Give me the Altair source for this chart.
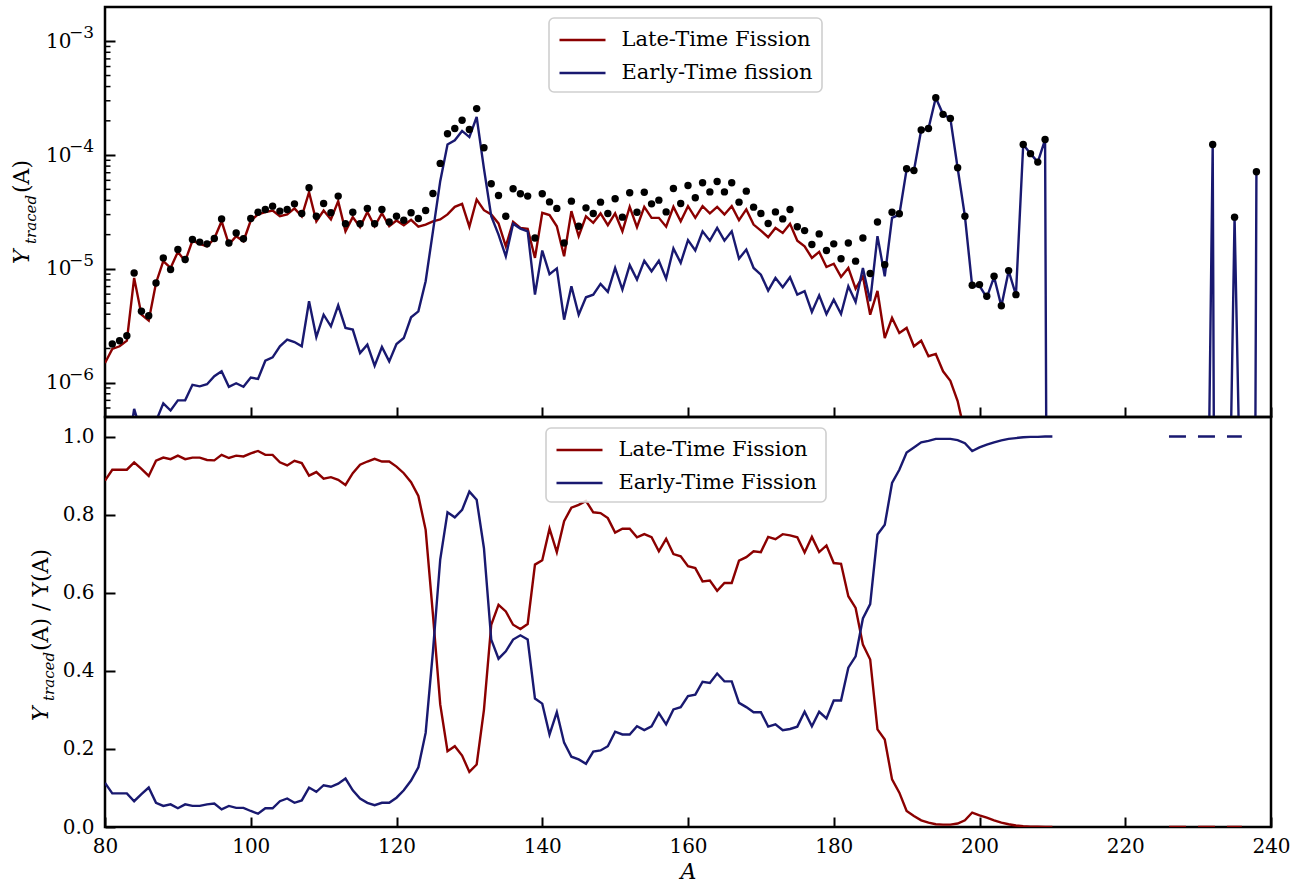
import altair as alt
import pandas as pd

# ---------------- data ----------------
# top panel: late-time fission yield, A = 80 .. 209
A_late_top = list(range(80, 210))
late_top = [
    1.49e-6, 1.98e-6, 2.09e-6, 2.34e-6, 8.34e-6, 3.96e-6, 3.51e-6, 7.53e-6, 1.17e-5, 1.02e-5,
    1.41e-5, 1.17e-5, 1.77e-5, 1.66e-5, 1.58e-5, 1.85e-5, 2.62e-5, 1.64e-5, 1.94e-5, 1.75e-5,
    2.66e-5, 3.01e-5, 3.15e-5, 3.26e-5, 2.90e-5, 3.01e-5, 3.40e-5, 2.90e-5, 4.72e-5, 2.62e-5,
    3.26e-5, 2.72e-5, 3.94e-5, 2.14e-5, 2.85e-5, 2.33e-5, 3.17e-5, 2.37e-5, 3.09e-5, 2.37e-5,
    2.66e-5, 2.42e-5, 2.70e-5, 2.35e-5, 2.45e-5, 2.62e-5, 2.72e-5, 3.01e-5, 3.51e-5, 3.73e-5,
    2.35e-5, 4.07e-5, 3.28e-5, 3.01e-5, 2.51e-5, 1.58e-5, 2.59e-5, 2.29e-5, 2.25e-5, 1.25e-5,
    3.11e-5, 2.97e-5, 2.37e-5, 1.29e-5, 3.22e-5, 1.94e-5, 2.90e-5, 2.54e-5, 3.07e-5, 2.42e-5,
    3.07e-5, 2.14e-5, 3.51e-5, 2.33e-5, 3.51e-5, 2.81e-5, 2.81e-5, 2.35e-5, 3.51e-5, 2.62e-5,
    3.56e-5, 2.81e-5, 3.56e-5, 3.07e-5, 3.51e-5, 3.01e-5, 3.56e-5, 2.68e-5, 3.33e-5, 2.45e-5,
    2.17e-5, 1.90e-5, 2.29e-5, 2.07e-5, 2.49e-5, 1.77e-5, 1.58e-5, 1.25e-5, 1.41e-5, 1.04e-5,
    1.11e-5, 8.5e-6, 1.02e-5, 6.7e-6, 8.6e-6, 3.96e-6, 6.4e-6, 2.47e-6, 3.71e-6, 2.74e-6,
    3.03e-6, 2.09e-6, 2.34e-6, 1.71e-6, 1.79e-6, 1.26e-6, 1.04e-6, 6.9e-7, 3.6e-7, 2.7e-7,
    2.2e-7, 1.4e-7, 1.5e-7, 5e-8, 7e-8, 2.4e-8, 2.5e-7, 1e-7, 9e-8, 1e-7,
]

# top panel: early-time fission yield, A = 80 .. 238 (1e-20 stands for zero)
A_early_top = list(range(80, 239))
early_top = [
    1.9e-7, 1.9e-7, 2.0e-7, 2.2e-7, 5.9e-7, 3.6e-7, 3.9e-7, 4.6e-7, 6.6e-7, 5.7e-7,
    7.0e-7, 7.0e-7, 9.6e-7, 9.3e-7, 9.7e-7, 1.14e-6, 1.26e-6, 9.2e-7, 9.9e-7, 9.2e-7,
    1.11e-6, 1.08e-6, 1.56e-6, 1.67e-6, 2.09e-6, 2.39e-6, 2.28e-6, 2.09e-6, 5.2e-6, 2.52e-6,
    3.96e-6, 3.13e-6, 4.79e-6, 3.03e-6, 2.93e-6, 1.82e-6, 2.16e-6, 1.41e-6, 2.06e-6, 1.54e-6,
    2.19e-6, 2.47e-6, 3.76e-6, 4.24e-6, 7.79e-6, 2.14e-5, 5.9e-5, 1.24e-4, 1.35e-4, 1.63e-4,
    1.44e-4, 2.16e-4, 7.6e-5, 2.9e-5, 2.0e-5, 1.29e-5, 2.49e-5, 2.26e-5, 2.14e-5, 5.94e-6,
    1.45e-5, 9.0e-6, 1.01e-5, 3.58e-6, 7.04e-6, 3.96e-6, 5.63e-6, 5.94e-6, 7.38e-6, 6.28e-6,
    1.02e-5, 6.58e-6, 1.08e-5, 8.05e-6, 1.18e-5, 9.53e-6, 1.18e-5, 8.22e-6, 1.51e-5, 1.13e-5,
    1.79e-5, 1.45e-5, 2.14e-5, 1.77e-5, 2.29e-5, 1.77e-5, 2.14e-5, 1.23e-5, 1.48e-5, 1.02e-5,
    8.9e-6, 6.45e-6, 8.33e-6, 6.9e-6, 8.45e-6, 5.94e-6, 6.37e-6, 4.19e-6, 5.86e-6, 4.02e-6,
    5.37e-6, 4.02e-6, 7.04e-6, 5.13e-6, 1.02e-5, 5.2e-6, 1.94e-5, 8.61e-6, 2.81e-5, 3.0e-5,
    7.5e-5, 7.3e-5, 1.66e-4, 1.71e-4, 3.19e-4, 2.28e-4, 2.10e-4, 7.7e-5, 2.9e-5, 7.0e-6,
    7.1e-6, 5.6e-6, 8.5e-6, 4.7e-6, 9.6e-6, 5.9e-6, 1.24e-4, 1.03e-4, 8.68e-5, 1.37e-4,
    1e-20, 1e-20, 1e-20, 1e-20, 1e-20, 1e-20, 1e-20, 1e-20, 1e-20, 1e-20,
    1e-20, 1e-20, 1e-20, 1e-20, 1e-20, 1e-20, 1e-20, 1e-20, 1e-20, 1e-20,
    1e-20, 7e-10, 1.24e-4, 1e-20, 4e-9, 2.85e-5, 1.8e-8, 1e-20, 7.13e-5,
]

# top panel: total yield (black dots)
A_total = list(range(81, 210)) + [232, 235, 238]
total_top = [
    2.19e-6, 2.34e-6, 2.59e-6, 9.22e-6, 4.24e-6, 3.88e-6, 7.53e-6, 1.25e-5, 9.87e-6,
    1.48e-5, 1.21e-5, 1.81e-5, 1.72e-5, 1.66e-5, 1.85e-5, 2.75e-5, 1.69e-5, 2.07e-5, 1.84e-5,
    2.77e-5, 3.15e-5, 3.33e-5, 3.56e-5, 3.22e-5, 3.33e-5, 3.73e-5, 3.07e-5, 5.16e-5, 2.90e-5,
    3.76e-5, 3.11e-5, 4.36e-5, 2.49e-5, 3.15e-5, 2.49e-5, 3.40e-5, 2.49e-5, 3.33e-5, 2.58e-5,
    2.90e-5, 2.68e-5, 3.11e-5, 2.77e-5, 3.26e-5, 4.60e-5, 8.45e-5, 1.54e-4, 1.71e-4, 2.02e-4,
    1.68e-4, 2.56e-4, 1.16e-4, 5.60e-5, 4.41e-5, 2.90e-5, 5.06e-5, 4.57e-5, 4.36e-5, 1.87e-5,
    4.57e-5, 3.88e-5, 3.40e-5, 1.69e-5, 3.94e-5, 2.37e-5, 3.44e-5, 3.07e-5, 3.86e-5, 3.07e-5,
    4.13e-5, 2.85e-5, 4.67e-5, 3.15e-5, 4.72e-5, 3.73e-5, 4.02e-5, 3.17e-5, 5.09e-5, 3.76e-5,
    5.41e-5, 4.22e-5, 5.72e-5, 4.75e-5, 5.87e-5, 4.75e-5, 5.72e-5, 3.86e-5, 4.82e-5, 3.49e-5,
    3.07e-5, 2.51e-5, 3.17e-5, 2.75e-5, 3.33e-5, 2.35e-5, 2.17e-5, 1.64e-5, 2.03e-5, 1.45e-5,
    1.66e-5, 1.23e-5, 1.69e-5, 1.17e-5, 1.87e-5, 9.1e-6, 2.58e-5, 1.09e-5, 3.15e-5, 3.05e-5,
    7.58e-5, 7.33e-5, 1.66e-4, 1.71e-4, 3.19e-4, 2.28e-4, 2.10e-4, 7.74e-5, 2.90e-5, 7.18e-6,
    7.28e-6, 5.75e-6, 8.61e-6, 4.75e-6, 9.66e-6, 5.94e-6, 1.24e-4, 1.03e-4, 8.68e-5, 1.37e-4,
    1.24e-4, 2.85e-5, 7.13e-5,
]

# bottom panel: fractions, A = 80 .. 210
A_frac = list(range(80, 211))
late_frac = [
    0.887, 0.915, 0.915, 0.915, 0.934, 0.917, 0.899, 0.938, 0.946, 0.942,
    0.951, 0.942, 0.946, 0.946, 0.940, 0.939, 0.953, 0.945, 0.951, 0.949,
    0.957, 0.963, 0.953, 0.953, 0.934, 0.926, 0.938, 0.932, 0.900, 0.909,
    0.892, 0.896, 0.889, 0.876, 0.906, 0.928, 0.936, 0.943, 0.936, 0.936,
    0.923, 0.906, 0.883, 0.848, 0.761, 0.544, 0.314, 0.194, 0.207, 0.183,
    0.141, 0.160, 0.300, 0.518, 0.569, 0.552, 0.518, 0.507, 0.520, 0.672,
    0.683, 0.764, 0.704, 0.783, 0.818, 0.825, 0.835, 0.806, 0.804, 0.791,
    0.754, 0.764, 0.764, 0.742, 0.750, 0.742, 0.706, 0.738, 0.699, 0.693,
    0.668, 0.663, 0.629, 0.631, 0.605, 0.625, 0.625, 0.682, 0.691, 0.706,
    0.704, 0.743, 0.737, 0.750, 0.747, 0.742, 0.703, 0.743, 0.704, 0.721,
    0.676, 0.674, 0.591, 0.561, 0.467, 0.429, 0.250, 0.224, 0.122, 0.088,
    0.041, 0.028, 0.017, 0.011, 0.007, 0.006, 0.006, 0.009, 0.017, 0.037,
    0.030, 0.024, 0.017, 0.011, 0.007, 0.004, 0.002, 0.001, 0.001, 0.000,
    0.000,
]
early_frac = [
    0.113, 0.086, 0.086, 0.086, 0.066, 0.084, 0.101, 0.062, 0.054, 0.058,
    0.048, 0.058, 0.054, 0.054, 0.058, 0.060, 0.045, 0.054, 0.049, 0.049,
    0.041, 0.034, 0.048, 0.048, 0.066, 0.073, 0.062, 0.068, 0.101, 0.090,
    0.107, 0.103, 0.111, 0.124, 0.094, 0.073, 0.062, 0.056, 0.062, 0.062,
    0.075, 0.094, 0.119, 0.153, 0.241, 0.450, 0.685, 0.806, 0.793, 0.812,
    0.859, 0.838, 0.714, 0.480, 0.431, 0.450, 0.480, 0.491, 0.480, 0.329,
    0.316, 0.237, 0.294, 0.216, 0.180, 0.173, 0.162, 0.193, 0.196, 0.207,
    0.244, 0.237, 0.237, 0.258, 0.248, 0.258, 0.292, 0.263, 0.301, 0.307,
    0.335, 0.339, 0.372, 0.369, 0.393, 0.373, 0.373, 0.318, 0.307, 0.294,
    0.294, 0.257, 0.263, 0.248, 0.251, 0.257, 0.295, 0.258, 0.295, 0.278,
    0.324, 0.324, 0.408, 0.437, 0.534, 0.571, 0.749, 0.774, 0.881, 0.915,
    0.959, 0.972, 0.985, 0.989, 0.994, 0.994, 0.994, 0.991, 0.983, 0.963,
    0.972, 0.979, 0.985, 0.990, 0.994, 0.996, 0.998, 0.999, 0.999, 1.000,
    1.000,
]

# dashed segment at the far right of the bottom panel
A_dash = [226, 236]
late_dash = [0.0, 0.0]
early_dash = [1.0, 1.0]

x_ticks = [80, 100, 120, 140, 160, 180, 200, 220, 240]
log_major = [1e-6, 1e-5, 1e-4, 1e-3]
log_exponents = ["−6", "−5", "−4", "−3"]
log_minor = [6e-7, 7e-7, 8e-7, 9e-7,
             2e-6, 3e-6, 4e-6, 5e-6, 6e-6, 7e-6, 8e-6, 9e-6,
             2e-5, 3e-5, 4e-5, 5e-5, 6e-5, 7e-5, 8e-5, 9e-5,
             2e-4, 3e-4, 4e-4, 5e-4, 6e-4, 7e-4, 8e-4, 9e-4]
frac_ticks = [0.0, 0.2, 0.4, 0.6, 0.8, 1.0]

top_names = ["Late-Time Fission", "Early-Time fission"]
bot_names = ["Late-Time Fission", "Early-Time Fission"]

assert len(A_late_top) == len(late_top)
assert len(A_early_top) == len(early_top)
assert len(A_total) == len(total_top)
assert len(A_frac) == len(late_frac) == len(early_frac)

# ---------------- style ----------------
RED = "#8b0000"
BLUE = "#191970"
FONT = "DejaVu Serif"
W, H = 1166, 410
TICK = 10
LBL = 20
LW = 2.4

xs = alt.Scale(domain=[80, 240], nice=False, zero=False)
ys_top = alt.Scale(type="log", domain=[5e-7, 2e-3], nice=False)
ys_bot = alt.Scale(domain=[0, 1.05], nice=False, zero=False)

common_axis = dict(domain=False, grid=False, tickSize=TICK, offset=-TICK, tickWidth=2,
                   tickColor="black", labelFont=FONT, labelFontSize=LBL, labelColor="black")

x_axis_top = alt.Axis(values=x_ticks, labels=False, title=None, **common_axis)
x_axis_bot = alt.Axis(values=x_ticks, title="A", labelPadding=9, labelFlush=False,
                      labelOverlap=False, titleFont=FONT, titleFontSize=22,
                      titleFontStyle="italic", titleFontWeight="normal",
                      titleColor="black", titlePadding=5, **common_axis)
y_axis_top = alt.Axis(values=log_major, title=None, labelPadding=34,
                      labelExpr="'10'", **common_axis)
y_axis_bot = alt.Axis(values=frac_ticks, format=".1f", title=None, labelPadding=11,
                      **common_axis)


def legend(x):
    # a custom path twice as long as the symbol box keeps the rows compact
    return alt.Legend(title=None, orient="none", legendX=x, legendY=11, direction="vertical",
                      symbolType="M-2,0L2,0", symbolSize=529, symbolStrokeWidth=2.5,
                      symbolOffset=11.5, labelOffset=26, labelLimit=600,
                      labelFont=FONT, labelFontSize=21, labelColor="black",
                      padding=9, rowPadding=10, strokeColor="#cfcfcf",
                      fillColor="rgba(255,255,255,0.85)", cornerRadius=5, zindex=2)


def text_piece(txt, x, y, size, style):
    return alt.Chart(pd.DataFrame({"t": [txt]})).mark_text(
        angle=270, align="left", baseline="alphabetic", font=FONT, fontSize=size,
        fontStyle=style, color="black"
    ).encode(text="t:N", x=alt.value(x), y=alt.value(y))


# ---------------- top panel ----------------
top_df = pd.DataFrame({
    "A": A_late_top + A_early_top,
    "Y": late_top + early_top,
    "s": [top_names[0]] * len(A_late_top) + [top_names[1]] * len(A_early_top),
})
top_lines = alt.Chart(top_df).mark_line(strokeWidth=LW, clip=True).encode(
    x=alt.X("A:Q", scale=xs, axis=x_axis_top),
    y=alt.Y("Y:Q", scale=ys_top, axis=y_axis_top),
    color=alt.Color("s:N", scale=alt.Scale(domain=top_names, range=[RED, BLUE]),
                    legend=legend(444)),
)
top_dots = alt.Chart(pd.DataFrame({"A": A_total, "Y": total_top})).mark_circle(
    size=55, color="black", opacity=1, clip=True
).encode(
    x=alt.X("A:Q", scale=xs, axis=x_axis_top),
    y=alt.Y("Y:Q", scale=ys_top, axis=y_axis_top),
)
top_minor = alt.Chart(pd.DataFrame({"v": log_minor})).mark_rule(
    color="black", strokeWidth=1.5
).encode(
    y=alt.Y("v:Q", scale=ys_top, axis=y_axis_top),
    x=alt.value(0), x2=alt.value(5.5),
)
top_exp = alt.Chart(pd.DataFrame({"v": log_major, "e": log_exponents})).mark_text(
    align="left", baseline="alphabetic", font=FONT, fontSize=17, color="black", dy=-3
).encode(
    y=alt.Y("v:Q", scale=ys_top, axis=y_axis_top),
    x=alt.value(-36), text="e:N",
)
top_title = [
    text_piece("Y", -76, 257, 22, "italic"),
    text_piece("traced", -69, 237, 15, "italic"),
    text_piece("(A)", -76, 186, 22, "normal"),
]
top = alt.layer(top_lines, top_dots, top_minor, top_exp, *top_title).properties(width=W, height=H)

# ---------------- bottom panel ----------------
bot_df = pd.DataFrame({
    "A": A_frac + A_frac,
    "F": late_frac + early_frac,
    "s": [bot_names[0]] * len(A_frac) + [bot_names[1]] * len(A_frac),
})
bot_lines = alt.Chart(bot_df).mark_line(strokeWidth=LW, clip=True).encode(
    x=alt.X("A:Q", scale=xs, axis=x_axis_bot),
    y=alt.Y("F:Q", scale=ys_bot, axis=y_axis_bot),
    color=alt.Color("s:N", scale=alt.Scale(domain=bot_names, range=[RED, BLUE]),
                    legend=legend(441)),
)
dash_late = alt.Chart(pd.DataFrame({"A": A_dash, "F": late_dash})).mark_line(
    strokeWidth=LW, strokeDash=[17, 12], clip=True, color=RED
).encode(x=alt.X("A:Q", scale=xs, axis=x_axis_bot), y=alt.Y("F:Q", scale=ys_bot, axis=y_axis_bot))
dash_early = alt.Chart(pd.DataFrame({"A": A_dash, "F": early_dash})).mark_line(
    strokeWidth=LW, strokeDash=[17, 12], clip=True, color=BLUE
).encode(x=alt.X("A:Q", scale=xs, axis=x_axis_bot), y=alt.Y("F:Q", scale=ys_bot, axis=y_axis_bot))
bot_title = [
    text_piece("Y", -57, 304, 22, "italic"),
    text_piece("traced", -51, 284, 15, "italic"),
    text_piece("(A) / Y(A)", -57, 234, 22, "normal"),
]
bot = alt.layer(bot_lines, dash_late, dash_early, *bot_title).properties(width=W, height=H)

chart = alt.vconcat(top, bot, spacing=0, bounds="flush").resolve_scale(
    color="independent"
).properties(
    padding={"left": 9, "top": 5, "right": 5, "bottom": 5}
).configure(background="white").configure_view(
    stroke="black", strokeWidth=2.5
).configure_legend(strokeWidth=1.6)

chart.save("out.html", embed_options={"renderer": "svg", "actions": False})
